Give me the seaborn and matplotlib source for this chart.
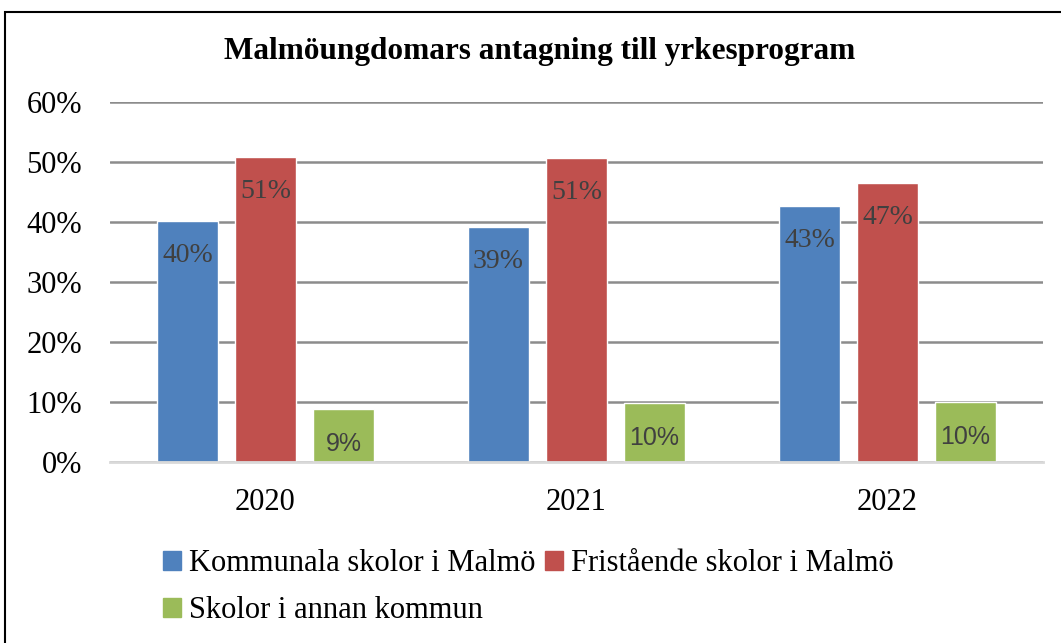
import matplotlib
matplotlib.use("Agg")
import matplotlib.pyplot as plt
import seaborn as sns
import pandas as pd
from matplotlib.patches import Rectangle
from matplotlib.ticker import FuncFormatter

years = ["2020", "2021", "2022"]
series = ["Kommunala skolor i Malmö", "Fristående skolor i Malmö", "Skolor i annan kommun"]
kommunala = [40.2, 39.2, 42.7]
fristaende = [50.8, 50.7, 46.5]
annan = [8.8, 9.8, 10.0]
labels_k = ["40%", "39%", "43%"]
labels_f = ["51%", "51%", "47%"]
labels_a = ["9%", "10%", "10%"]
colors = ["#4F81BD", "#C0504D", "#9BBB59"]

rows = []
for s, vals in zip(series, [kommunala, fristaende, annan]):
    for y, v in zip(years, vals):
        rows.append({"year": y, "series": s, "value": v})
df = pd.DataFrame(rows)

sns.set_style("white")
plt.rcParams["font.family"] = ["Liberation Serif", "DejaVu Serif"]
plt.rcParams["text.color"] = "black"

fig = plt.figure(figsize=(10.61, 6.43), dpi=100)
ax = fig.add_axes([110/1061, 1-462/643, (1043-110)/1061, 360/643])

sns.barplot(data=df, x="year", y="value", hue="series", order=years, hue_order=series,
            palette=colors, width=0.753, gap=0.22, ax=ax, legend=False, saturation=1)

ax.set_ylim(0, 60)
ax.set_xlim(-0.5, 2.5)
ax.set_yticks(range(0, 61, 10))
ax.yaxis.set_major_formatter(FuncFormatter(lambda v, p: f"{int(v)}%"))
ax.grid(axis="y", color="#8c8c8c", linewidth=1.8)
ax.set_axisbelow(True)
for sp in ["top", "right", "left"]:
    ax.spines[sp].set_visible(False)
ax.spines["bottom"].set_color("#d9d9d9")
ax.spines["bottom"].set_linewidth(2)
ax.set_xlabel("")
ax.set_ylabel("")
ax.tick_params(axis="y", length=0, pad=20, labelsize=22, labelcolor="#000000")
ax.tick_params(axis="x", length=0, pad=19, labelsize=22, labelcolor="#000000")

for cont, labs, fam in zip(ax.containers, [labels_k, labels_f, labels_a],
                           ["serif", "serif", "sans"]):
    family = ["Liberation Serif"] if fam == "serif" else ["Liberation Sans"]
    ax.bar_label(cont, labels=labs, label_type="edge", padding=-34, color="#404040",
                 fontsize=20 if fam == "serif" else 18, family=family)

fig.text(540/1061, 1-52/643, "Malmöungdomars antagning till yrkesprogram",
         ha="center", va="center", fontsize=22.5, fontweight="bold", color="black")

handles = [Rectangle((0, 0), 1, 1, color=c) for c in colors]
order = [0, 2, 1]
fig.legend([handles[i] for i in order], [series[i] for i in order],
           loc="upper left", bbox_to_anchor=(163/1061, 1-549/643),
           ncol=2, frameon=False, fontsize=22, handlelength=0.6, handleheight=0.6,
           handletextpad=0.25, columnspacing=0.3, labelspacing=0.6, borderaxespad=0,
           borderpad=0, labelcolor="black")

fig.patches.append(Rectangle((5/1061, -0.1), 1.2, 1.1 - 12/643, transform=fig.transFigure,
                             fill=False, edgecolor="black", linewidth=1.5))

fig.savefig("out.png", dpi=100)
